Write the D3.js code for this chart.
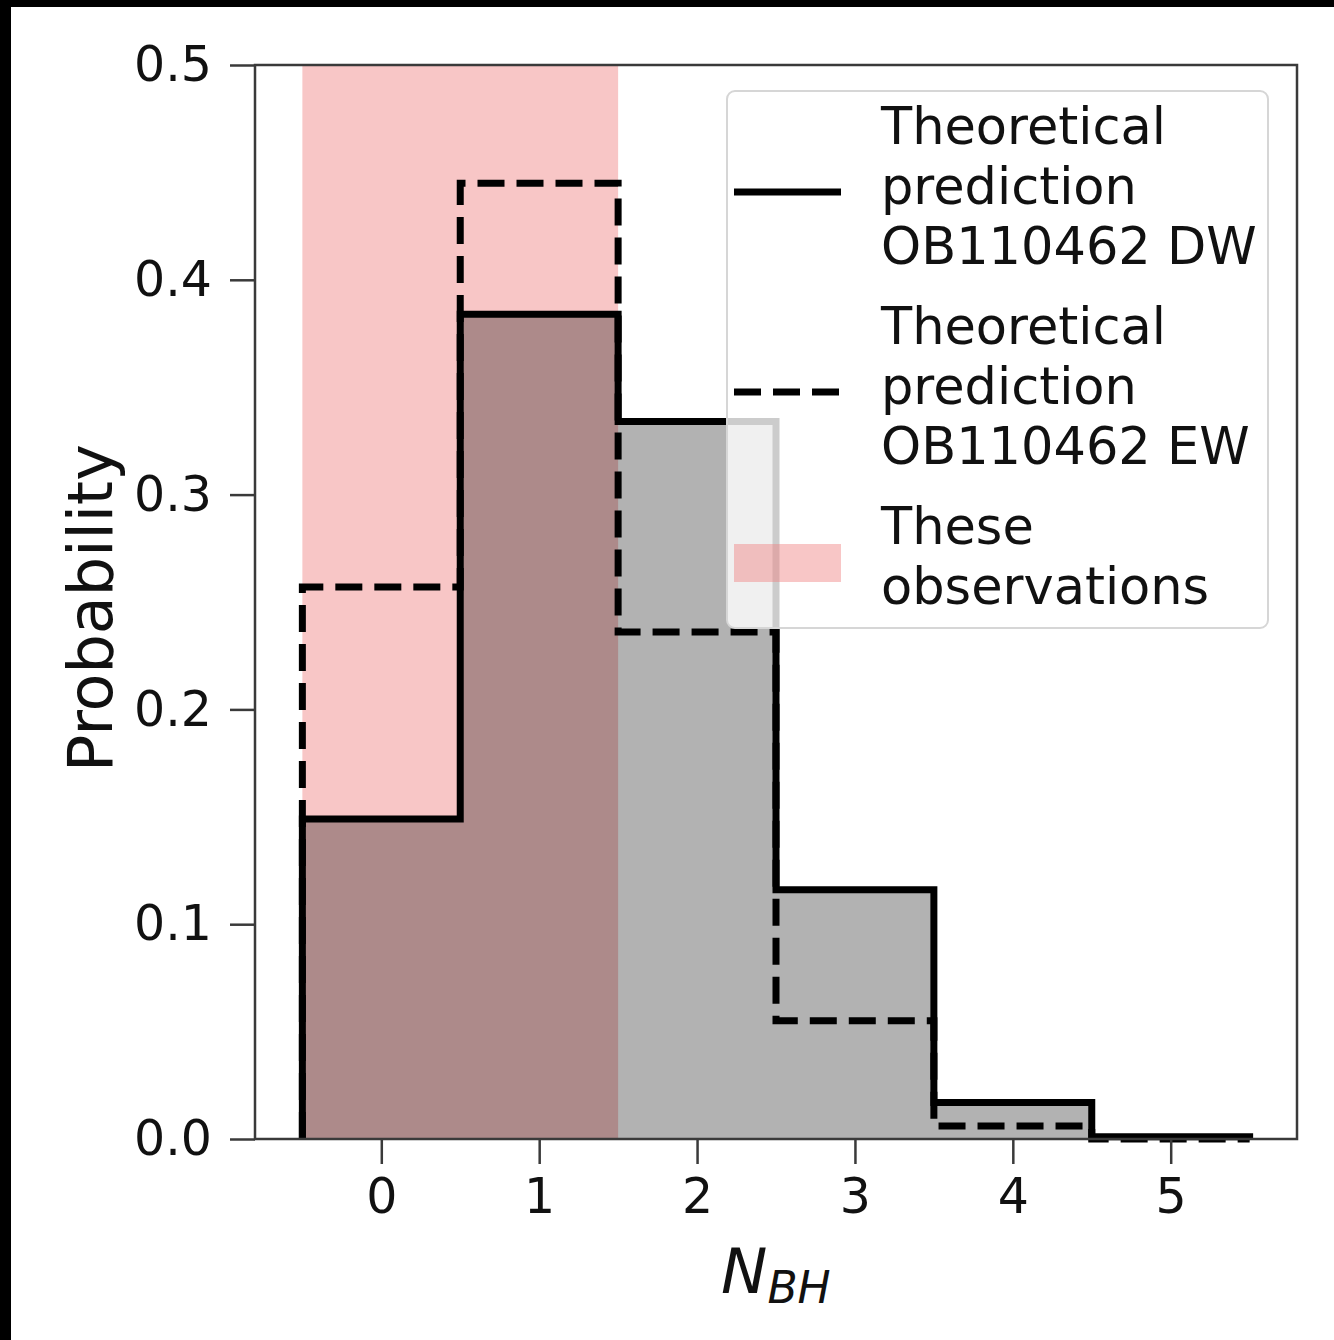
<!DOCTYPE html>
<html>
<head>
<meta charset="utf-8">
<script src="https://cdn.jsdelivr.net/npm/d3@7"></script>
<style>
  html, body { margin: 0; padding: 0; background: #ffffff; }
  svg { display: block; }
  text { font-family: "DejaVu Sans", sans-serif; }
</style>
</head>
<body>
<div id="chart"></div>
<script>
// ---- data ----
const bins = [0, 1, 2, 3, 4, 5];
const dwValues = [0.149, 0.384, 0.334, 0.116, 0.017, 0.001];
const ewValues = [0.257, 0.445, 0.236, 0.055, 0.006, 0.0];
const obsRange = [-0.5, 1.5];
const xTicks = [0, 1, 2, 3, 4, 5];
const yTicks = [0, 0.1, 0.2, 0.3, 0.4, 0.5];
const legendLabels = [
  ["Theoretical", "prediction", "OB110462 DW"],
  ["Theoretical", "prediction", "OB110462 EW"],
  ["These", "observations"]
];

// ---- layout ----
const W = 1334, H = 1340;
const plot = { left: 255, right: 1297, top: 65, bottom: 1139 };

const svg = d3.select("#chart").append("svg")
  .attr("width", W).attr("height", H);

svg.append("rect").attr("x", 0).attr("y", 0).attr("width", W).attr("height", H).attr("fill", "#fff");
// dark edges of the picture
svg.append("rect").attr("x", 0).attr("y", 0).attr("width", W).attr("height", 7).attr("fill", "#000");
svg.append("rect").attr("x", 0).attr("y", 0).attr("width", 11).attr("height", H).attr("fill", "#000");

const x = d3.scaleLinear().domain([-0.8, 5.8]).range([plot.left, plot.right]);
const y = d3.scaleLinear().domain([0, 0.5]).range([plot.bottom, plot.top]);

function stepPoints(vals) {
  const pts = [[bins[0] - 0.5, 0]];
  bins.forEach((b, i) => {
    pts.push([b - 0.5, vals[i]]);
    pts.push([b + 0.5, vals[i]]);
  });
  pts.push([bins[bins.length - 1] + 0.5, 0]);
  return pts;
}

const line = d3.line().x(d => x(d[0])).y(d => y(d[1]));
const area = d3.area().x(d => x(d[0])).y0(y(0)).y1(d => y(d[1]));

// observations span
svg.append("rect")
  .attr("x", x(obsRange[0]))
  .attr("y", y(0.5))
  .attr("width", x(obsRange[1]) - x(obsRange[0]))
  .attr("height", y(0) - y(0.5))
  .attr("fill", "#f08080")
  .attr("fill-opacity", 0.45);

// filled DW histogram
svg.append("path")
  .attr("d", area(stepPoints(dwValues)))
  .attr("fill", "#000")
  .attr("fill-opacity", 0.3);

// EW step line (dashed)
svg.append("path")
  .attr("d", line(stepPoints(ewValues)))
  .attr("fill", "none")
  .attr("stroke", "#000")
  .attr("stroke-width", 7)
  .attr("stroke-dasharray", "27,12")
  .attr("stroke-linejoin", "miter");

// DW step line (solid)
svg.append("path")
  .attr("d", line(stepPoints(dwValues)))
  .attr("fill", "none")
  .attr("stroke", "#000")
  .attr("stroke-width", 7)
  .attr("stroke-linejoin", "miter");

// axes
const xAxis = d3.axisBottom(x).tickValues(xTicks).tickSize(25).tickPadding(14).tickFormat(d3.format("d"));
const yAxis = d3.axisLeft(y).tickValues(yTicks).tickSize(25).tickPadding(18).tickFormat(d3.format(".1f"));

const gx = svg.append("g").attr("transform", `translate(0,${plot.bottom})`).call(xAxis);
const gy = svg.append("g").attr("transform", `translate(${plot.left},0)`).call(yAxis);
[gx, gy].forEach(g => {
  g.select(".domain").remove();
  g.selectAll(".tick line").attr("stroke", "#3a3a3a").attr("stroke-width", 2.5);
  g.selectAll(".tick text").attr("font-size", 49).attr("fill", "#111")
    .attr("font-family", "DejaVu Sans, sans-serif");
});

// spines
svg.append("rect")
  .attr("x", plot.left).attr("y", plot.top)
  .attr("width", plot.right - plot.left).attr("height", plot.bottom - plot.top)
  .attr("fill", "none").attr("stroke", "#3a3a3a").attr("stroke-width", 2.5);

// axis labels
svg.append("text")
  .attr("transform", `translate(112,608) rotate(-90)`)
  .attr("text-anchor", "middle")
  .attr("font-size", 62)
  .attr("fill", "#111")
  .text("Probability");

const xl = svg.append("text")
  .attr("x", 721).attr("y", 1293)
  .attr("font-size", 62)
  .attr("fill", "#111")
  .attr("font-style", "italic");
xl.append("tspan").text("N");
xl.append("tspan").attr("font-size", 44).attr("dy", 10).text("BH");

// legend
const lg = svg.append("g");
lg.append("rect")
  .attr("x", 727).attr("y", 91).attr("width", 541).attr("height", 537)
  .attr("rx", 8).attr("ry", 8)
  .attr("fill", "#fff").attr("fill-opacity", 0.8)
  .attr("stroke", "#d6d6d6").attr("stroke-width", 2);

const entryTop = [144, 344, 544];
const handleY = [192, 392, 563];
legendLabels.forEach((lines, i) => {
  const t = lg.append("text")
    .attr("x", 881).attr("y", entryTop[i])
    .attr("font-size", 51).attr("fill", "#111");
  lines.forEach((s, j) => {
    t.append("tspan").attr("x", 881).attr("y", entryTop[i] + j * 60).text(s);
  });
});
lg.append("line").attr("x1", 734).attr("x2", 841).attr("y1", handleY[0]).attr("y2", handleY[0])
  .attr("stroke", "#000").attr("stroke-width", 7);
lg.append("line").attr("x1", 734).attr("x2", 841).attr("y1", handleY[1]).attr("y2", handleY[1])
  .attr("stroke", "#000").attr("stroke-width", 7).attr("stroke-dasharray", "27,12");
lg.append("rect").attr("x", 734).attr("y", handleY[2] - 19).attr("width", 107).attr("height", 38)
  .attr("fill", "#f08080").attr("fill-opacity", 0.45);
</script>
</body>
</html>
